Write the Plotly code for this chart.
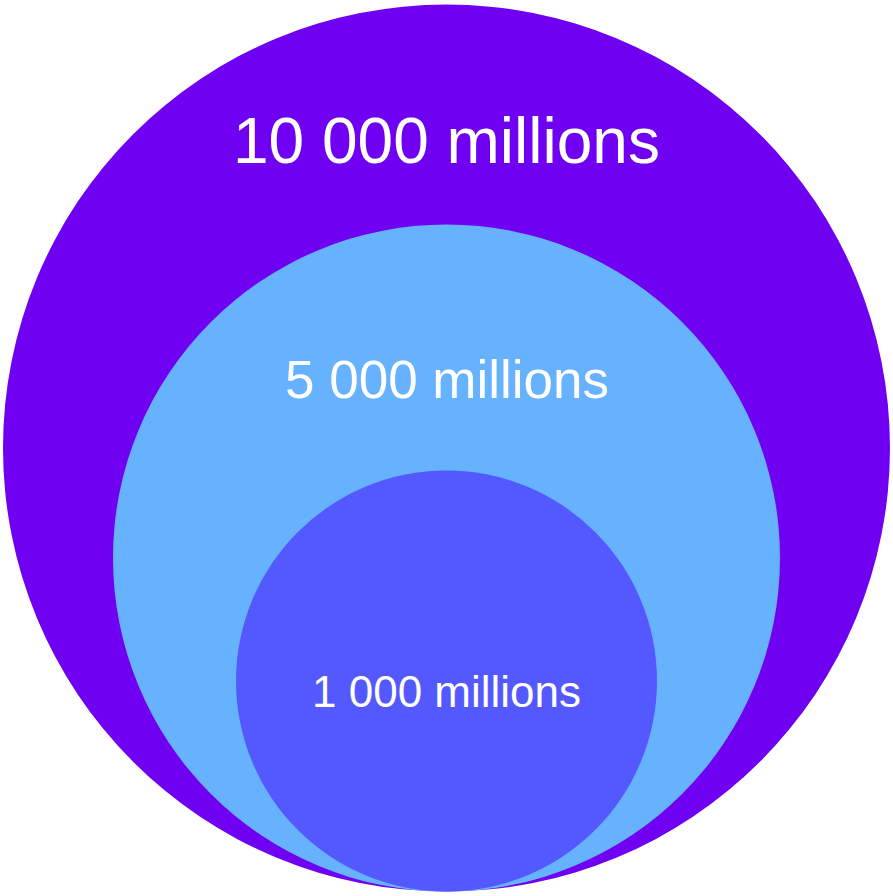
import plotly.graph_objects as go

# Nested circles, one per quantity
values = [10000, 5000, 1000]
labels = ["10 000 millions", "5 000 millions", "1 000 millions"]
colors = ["#6F00F2", "#66B2FF", "#5358FF"]

# Circle radii (px) and label font sizes, largest first
radii = [443.5, 333.5, 210.5]
font_sizes = [64, 53, 44]
# Vertical offset of each label from the circle's top edge
label_offsets = [136, 155, 221]

W, H = 893, 896
cx = 446.5
bottom = 891.5

fig = go.Figure()
shapes = []
for v, r, c in zip(values, radii, colors):
    shapes.append(dict(
        type="circle", xref="x", yref="y",
        x0=cx - r, x1=cx + r, y0=bottom - 2 * r, y1=bottom,
        fillcolor=c, line=dict(width=0), layer="below",
    ))

annotations = []
for lab, r, fs, off in zip(labels, radii, font_sizes, label_offsets):
    annotations.append(dict(
        x=cx, y=bottom - 2 * r + off, xref="x", yref="y",
        text=lab, showarrow=False,
        font=dict(family="Liberation Sans, Arial, sans-serif", size=fs, color="white"),
        xanchor="center", yanchor="middle",
    ))

fig.update_layout(
    width=W, height=H,
    margin=dict(l=0, r=0, t=0, b=0),
    paper_bgcolor="white", plot_bgcolor="white",
    shapes=shapes, annotations=annotations,
    xaxis=dict(range=[0, W], visible=False, fixedrange=True),
    yaxis=dict(range=[H, 0], visible=False, fixedrange=True),
    showlegend=False,
)

fig.write_html("out.html", config={"displayModeBar": False})
